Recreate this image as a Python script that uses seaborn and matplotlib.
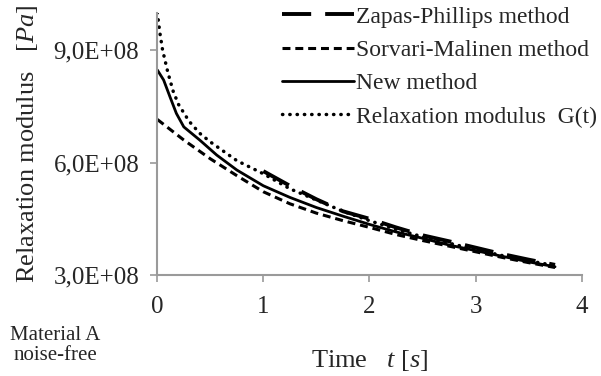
import matplotlib
matplotlib.use("Agg")
import matplotlib.pyplot as plt
import seaborn as sns
import numpy as np

# data (modulus in Pa)
t_exact = [0.0, 0.025, 0.05, 0.1, 0.15, 0.2, 0.3, 0.4, 0.5, 0.75, 1.0, 1.25, 1.5,
           1.75, 2.0, 2.25, 2.5, 2.75, 3.0, 3.25, 3.5, 3.75]
g_exact = [10.0, 9.45, 9.0, 8.4, 7.9, 7.55, 7.1, 6.78, 6.55, 6.05, 5.7, 5.3, 5.0,
           4.7, 4.45, 4.22, 4.02, 3.85, 3.68, 3.52, 3.38, 3.25]

t_new = [0.0, 0.06, 0.12, 0.18, 0.25, 0.4, 0.56, 0.75, 1.0, 1.25, 1.5, 1.75, 2.0,
         2.25, 2.5, 2.75, 3.0, 3.25, 3.5, 3.75]
g_new = [8.47, 8.2, 7.75, 7.31, 6.95, 6.6, 6.2, 5.8, 5.38, 5.07, 4.8, 4.57, 4.35,
         4.15, 3.98, 3.8, 3.65, 3.5, 3.35, 3.22]

t_sm = [0.0, 0.25, 0.5, 0.75, 1.0, 1.25, 1.5, 1.75, 2.0, 2.25, 2.5, 2.75, 3.0,
        3.25, 3.5, 3.75]
g_sm = [7.15, 6.6, 6.1, 5.65, 5.22, 4.9, 4.65, 4.45, 4.27, 4.08, 3.92, 3.77, 3.62,
        3.47, 3.33, 3.2]

t_zp = [1.0, 1.25, 1.5, 1.75, 2.0, 2.25, 2.5, 2.75, 3.0, 3.25, 3.5, 3.75]
g_zp = [5.77, 5.38, 5.02, 4.7, 4.5, 4.27, 4.06, 3.9, 3.73, 3.56, 3.41, 3.27]

labels = ["Zapas-Phillips method", "Sorvari-Malinen method", "New method",
          "Relaxation modulus  G(t)"]
yticks = [3e8, 6e8, 9e8]
ytick_labels = ["3,0E+08", "6,0E+08", "9,0E+08"]
xticks = [0, 1, 2, 3, 4]

sns.set_style("white")
plt.rcParams["font.family"] = ["Liberation Serif", "DejaVu Serif"]
plt.rcParams["mathtext.fontset"] = "custom"
plt.rcParams["mathtext.rm"] = "Liberation Serif"
plt.rcParams["mathtext.it"] = "Liberation Serif:italic"

fig = plt.figure(figsize=(6.01, 3.76), dpi=100)
ax = fig.add_axes([0.2617, 0.2686, 0.706, 0.698])

sc = 1e8
sns.lineplot(x=t_exact, y=np.array(g_exact) * sc, ax=ax, color="black", lw=2.5,
             linestyle=(0, (0.1, 2.0)), dash_capstyle="round", sort=False)
sns.lineplot(x=t_sm, y=np.array(g_sm) * sc, ax=ax, color="black", lw=2.2,
             linestyle=(0, (2.6, 1.6)), sort=False)
sns.lineplot(x=t_new, y=np.array(g_new) * sc, ax=ax, color="black", lw=2.0,
             sort=False)
sns.lineplot(x=t_zp, y=np.array(g_zp) * sc, ax=ax, color="black", lw=2.8,
             linestyle=(0, (7.5, 3.6)), sort=False)

lines = ax.get_lines()
handles = [lines[3], lines[1], lines[2], lines[0]]

ax.set_xlim(0, 4)
ax.set_ylim(3e8, 1e9)
ax.set_xticks(xticks)
ax.set_yticks(yticks, ytick_labels)
ax.tick_params(axis="both", labelsize=18, color="#9a9a9a", length=5, width=1.2,
               direction="out", left=True, bottom=True)
ax.tick_params(axis="y", pad=8)
ax.tick_params(axis="x", pad=10)
for side in ["top", "right"]:
    ax.spines[side].set_visible(False)
for side in ["left", "bottom"]:
    ax.spines[side].set_color("#9a9a9a")
    ax.spines[side].set_linewidth(1.5)

ax.set_ylabel("Relaxation modulus   [$Pa$]", fontsize=19, labelpad=10)
ax.set_xlabel("Time   $t$ [$s$]", fontsize=19, labelpad=22)

fig.legend(handles, labels, loc="upper left", bbox_to_anchor=(0.465, 0.99),
           frameon=False, fontsize=17, handlelength=3.05, handletextpad=0.1,
           labelspacing=0.5, borderaxespad=0, borderpad=0.1)

fig.text(0.0915, 0.082, "Material A\nnoise-free", ha="center", va="center",
         fontsize=15, linespacing=1.05)

fig.savefig("out.png", dpi=100)
